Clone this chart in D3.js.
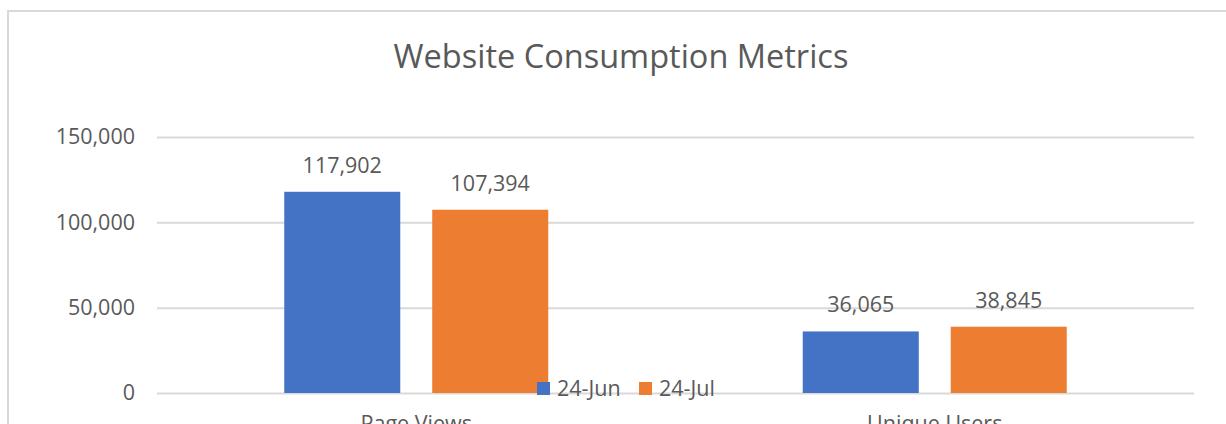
<!DOCTYPE html>
<html lang="en">
<head>
<meta charset="utf-8" />
<title>Website Consumption Metrics</title>
<script src="https://d3js.org/d3.v7.min.js"></script>
<style>
	body { margin: 0; background: #fff; }
	svg text { font-family: "Open Sans", sans-serif; fill: #595959; }
</style>
</head>
<body>
<div id="chart"></div>
<script>
	// data
	var categories = ["Page Views", "Unique Users"];
	var seriesNames = ["24-Jun", "24-Jul"];
	var jun = [117902, 36065];
	var jul = [107394, 38845];
	var yTicks = [0, 50000, 100000, 150000];
	var colors = ["#4472C4", "#ED7D31"];

	var W = 1226, H = 424;
	var margin = { top: 137, right: 32, bottom: 31, left: 157 },
		width = W - margin.left - margin.right,
		height = H - margin.top - margin.bottom;
	var fs = "21.5px";

	var svg = d3.select("#chart").append("svg")
		.attr("width", W).attr("height", H);

	// chart frame (right side runs off the picture)
	svg.append("rect")
		.attr("x", 8).attr("y", 11)
		.attr("width", W + 20).attr("height", H + 20)
		.attr("fill", "none")
		.attr("stroke", "#d9d9d9")
		.attr("stroke-width", 2);

	svg.append("text")
		.attr("x", 621).attr("y", 68)
		.attr("text-anchor", "middle")
		.style("font-size", "32.5px")
		.text("Website Consumption Metrics");

	var g = svg.append("g")
		.attr("transform", "translate(" + margin.left + "," + margin.top + ")");

	var x = d3.scaleBand().domain(categories).range([0, width]);
	var x1 = d3.scaleBand().domain(seriesNames)
		.range([x.bandwidth() / 2 - 132, x.bandwidth() / 2 + 132])
		.paddingInner(0.216);
	var y = d3.scaleLinear().domain([0, 150000]).range([height, 0]);

	// gridlines + y labels
	var yAxis = g.append("g")
		.call(d3.axisLeft(y).tickValues(yTicks).tickSize(-width)
			.tickFormat(d3.format(",")).tickPadding(22));
	yAxis.select(".domain").remove();
	yAxis.selectAll("line").attr("stroke", "#d9d9d9").attr("stroke-width", 2);
	yAxis.selectAll("text").style("font-size", fs).attr("fill", "#595959");

	// x labels
	var xAxis = g.append("g")
		.attr("transform", "translate(0," + height + ")")
		.call(d3.axisBottom(x).tickSize(0).tickPadding(23));
	xAxis.select(".domain").remove();
	xAxis.selectAll("text").style("font-size", fs).attr("fill", "#595959");

	var rows = categories.map(function(c, i) {
		return { cat: c, vals: [jun[i], jul[i]] };
	});

	var groups = g.selectAll(".grp").data(rows).enter().append("g")
		.attr("transform", function(d) { return "translate(" + x(d.cat) + ",0)"; });

	groups.selectAll("rect")
		.data(function(d) { return d.vals.map(function(v, j) { return { s: seriesNames[j], v: v, j: j }; }); })
		.enter().append("rect")
		.attr("x", function(d) { return x1(d.s); })
		.attr("y", function(d) { return y(d.v); })
		.attr("width", x1.bandwidth())
		.attr("height", function(d) { return height - y(d.v); })
		.attr("fill", function(d) { return colors[d.j]; });

	groups.selectAll(".lbl")
		.data(function(d) { return d.vals.map(function(v, j) { return { s: seriesNames[j], v: v }; }); })
		.enter().append("text")
		.attr("x", function(d) { return x1(d.s) + x1.bandwidth() / 2; })
		.attr("y", function(d) { return y(d.v) - 19; })
		.attr("text-anchor", "middle")
		.style("font-size", fs)
		.text(function(d) { return d3.format(",")(d.v); });

	// legend
	var legend = svg.append("g");
	var lx = [537, 639];
	seriesNames.forEach(function(s, i) {
		legend.append("rect")
			.attr("x", lx[i]).attr("y", 382)
			.attr("width", 13).attr("height", 13)
			.attr("fill", colors[i]);
		legend.append("text")
			.attr("x", lx[i] + 20).attr("y", 396)
			.style("font-size", fs)
			.text(s);
	});
</script>
</body>
</html>
